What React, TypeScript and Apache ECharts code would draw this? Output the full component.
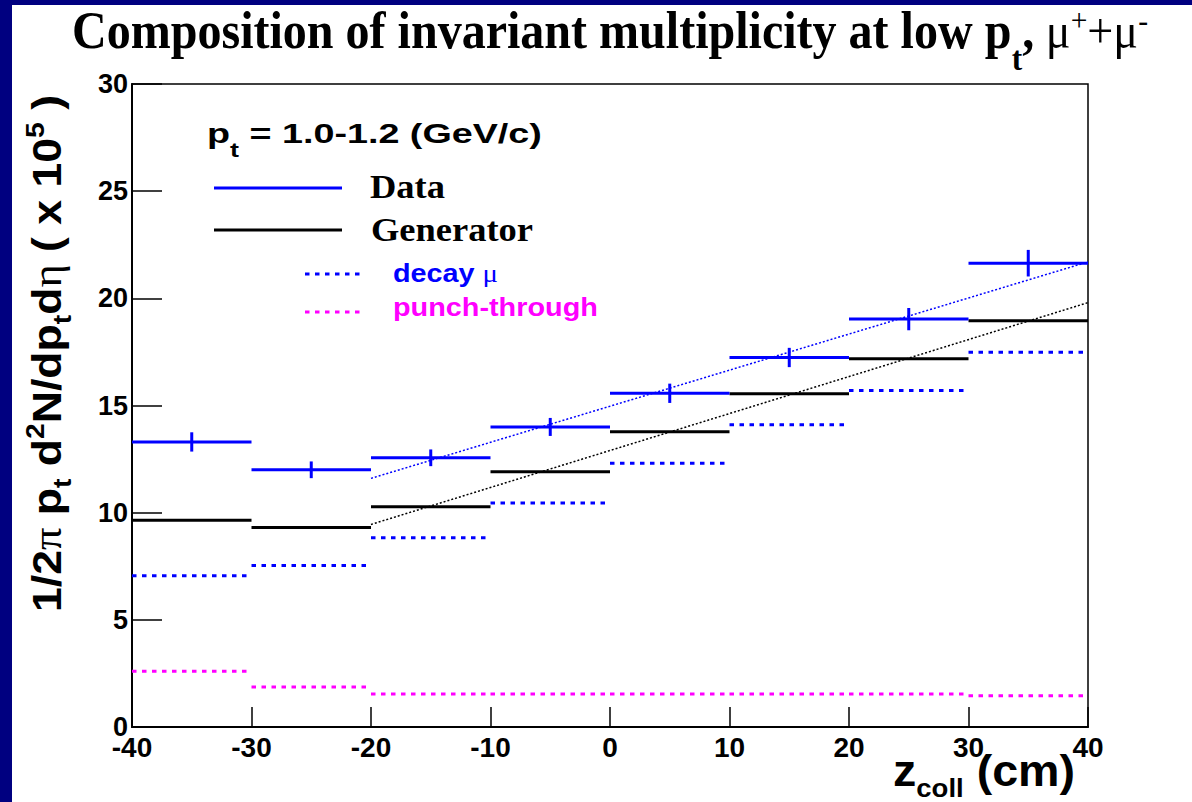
import React, { useEffect, useRef } from "react";
import * as echarts from "echarts";

// ---- data ----
const binEdges = [-40, -30, -20, -10, 0, 10, 20, 30, 40];
const dataValues = [13.3, 12.0, 12.56, 14.0, 15.57, 17.24, 19.03, 21.64];
const dataErrors = [0.45, 0.39, 0.39, 0.42, 0.45, 0.45, 0.52, 0.62];
const generatorValues = [9.65, 9.31, 10.28, 11.91, 13.77, 15.55, 17.18, 18.95];
const decayValues = [7.06, 7.54, 8.83, 10.45, 12.31, 14.1, 15.7, 17.49];
const punchValues = [2.6, 1.87, 1.54, 1.54, 1.54, 1.54, 1.54, 1.46];
const dataFit = [[-20, 11.6], [40, 21.7]];
const generatorFit = [[-20, 9.45], [40, 19.8]];

const X_MIN = -40, X_MAX = 40, X_STEP = 10;
const Y_MIN = 0, Y_MAX = 30, Y_STEP = 5;

const BLUE = "#0000ff";
const MAGENTA = "#ff00ff";
const SANS = '"Liberation Sans", Arial, sans-serif';
const SERIF = '"Liberation Serif", "Times New Roman", serif';

type Seg = { t: string; size: number; family: string; weight?: string; dy?: number; color?: string };

let measureCtx: CanvasRenderingContext2D | null = null;
function measure(s: Seg): number {
  if (!measureCtx) measureCtx = document.createElement("canvas").getContext("2d");
  const ctx = measureCtx!;
  ctx.font = `${s.weight || "normal"} ${s.size}px ${s.family}`;
  return ctx.measureText(s.t).width;
}

// text run laid out on a baseline; fitted horizontally to a target length
function run(segs: Seg[], x: number, y: number, target: number, rotation = 0, color = "#000") {
  let cx = 0;
  const children: any[] = [];
  for (const s of segs) {
    const w = measure(s);
    const centralOffset = (s.family === SERIF ? 0.3375 : 0.3465) * s.size;
    children.push({
      type: "text",
      x: cx,
      y: (s.dy || 0) - centralOffset,
      style: {
        text: s.t,
        fontSize: s.size,
        fontFamily: s.family,
        fontWeight: s.weight || "normal",
        fill: s.color || color,
        align: "left",
        verticalAlign: "middle",
        textAlign: "left",
        textVerticalAlign: "middle",
      },
    });
    cx += w;
  }
  return { type: "group", x, y, rotation, scaleX: target / cx, children };
}

function binSeries(name: string, values: number[], errors: number[] | null, color: string, dashed: boolean, z: number) {
  return {
    type: "custom",
    name,
    z,
    data: values.map((v, i) => [binEdges[i], binEdges[i + 1], v, errors ? errors[i] : 0]),
    encode: { x: [0, 1], y: 2 },
    renderItem: (_p: any, api: any) => {
      const lo = api.value(0), hi = api.value(1), y = api.value(2), e = api.value(3);
      const a = api.coord([lo, y]);
      const b = api.coord([hi, y]);
      const children: any[] = [
        {
          type: "line",
          shape: { x1: a[0], y1: a[1], x2: b[0], y2: b[1] },
          style: { stroke: color, lineWidth: 3, lineDash: dashed ? [4.5, 5.5] : null },
        },
      ];
      if (e > 0) {
        const c = (lo + hi) / 2;
        const p = api.coord([c, y - e]);
        const q = api.coord([c, y + e]);
        children.push({
          type: "line",
          shape: { x1: p[0], y1: p[1], x2: q[0], y2: q[1] },
          style: { stroke: color, lineWidth: 3 },
        });
      }
      return { type: "group", children };
    },
  };
}

export default function App() {
  const ref = useRef<HTMLDivElement>(null);
  useEffect(() => {
    if (!ref.current) return;
    const chart = echarts.init(ref.current, undefined, { renderer: "svg" });

    const graphic: any[] = [
      { type: "rect", shape: { x: 0, y: 0, width: 12, height: 802 }, style: { fill: "#000080" }, z: 100 },
      { type: "rect", shape: { x: 0, y: 0, width: 1192, height: 5 }, style: { fill: "#000080" }, z: 100 },
      // title
      run(
        [
          { t: "Composition of invariant multiplicity at low p", size: 52, family: SERIF, weight: "bold" },
          { t: "t", size: 34, family: SERIF, weight: "bold", dy: 22 },
          { t: ",", size: 52, family: SERIF, weight: "bold" },
          { t: " \u03bc", size: 50, family: SERIF },
          { t: "+", size: 32, family: SERIF, dy: -17 },
          { t: "+\u03bc", size: 50, family: SERIF },
          { t: "-", size: 32, family: SERIF, dy: -17 },
        ],
        72, 48, 1076
      ),
      // y axis name
      run(
        [
          { t: "1/2", size: 41, family: SANS, weight: "bold" },
          { t: "\u03c0", size: 41, family: SERIF },
          { t: " p", size: 41, family: SANS, weight: "bold" },
          { t: "t", size: 26, family: SANS, weight: "bold", dy: 10 },
          { t: " d", size: 41, family: SANS, weight: "bold" },
          { t: "2", size: 26, family: SANS, weight: "bold", dy: -17 },
          { t: "N/dp", size: 41, family: SANS, weight: "bold" },
          { t: "t", size: 26, family: SANS, weight: "bold", dy: 10 },
          { t: "d", size: 41, family: SANS, weight: "bold" },
          { t: "\u03b7", size: 41, family: SERIF },
          { t: " ( x 10", size: 41, family: SANS, weight: "bold" },
          { t: "5", size: 26, family: SANS, weight: "bold", dy: -17 },
          { t: " )", size: 41, family: SANS, weight: "bold" },
        ],
        61, 612, 517, Math.PI / 2
      ),
      // x axis name
      run(
        [
          { t: "z", size: 44, family: SANS, weight: "bold" },
          { t: "coll", size: 26, family: SANS, weight: "bold", dy: 11 },
          { t: " (cm)", size: 44, family: SANS, weight: "bold" },
        ],
        893, 786, 182
      ),
      // legend block
      run(
        [
          { t: "p", size: 28, family: SANS, weight: "bold" },
          { t: "t", size: 20, family: SANS, weight: "bold", dy: 14 },
          { t: " = 1.0-1.2 (GeV/c)", size: 28, family: SANS, weight: "bold" },
        ],
        207, 143, 335
      ),
      { type: "line", shape: { x1: 214, y1: 188, x2: 342, y2: 188 }, style: { stroke: BLUE, lineWidth: 3 } },
      run([{ t: "Data", size: 33, family: SERIF, weight: "bold" }], 370, 198, 75),
      { type: "line", shape: { x1: 214, y1: 230, x2: 342, y2: 230 }, style: { stroke: "#000", lineWidth: 3 } },
      run([{ t: "Generator", size: 33, family: SERIF, weight: "bold" }], 371, 241, 162),
      { type: "line", shape: { x1: 305, y1: 274, x2: 362, y2: 274 }, style: { stroke: BLUE, lineWidth: 3, lineDash: [4.5, 5.5] } },
      run(
        [
          { t: "decay ", size: 26, family: SANS, weight: "bold", color: BLUE },
          { t: "\u03bc", size: 26, family: SERIF, color: BLUE },
        ],
        393, 282, 105
      ),
      { type: "line", shape: { x1: 305, y1: 312, x2: 362, y2: 312 }, style: { stroke: MAGENTA, lineWidth: 3, lineDash: [4.5, 5.5] } },
      run([{ t: "punch-through", size: 25, family: SANS, weight: "bold", color: MAGENTA }], 393, 316, 205),
    ];

    chart.setOption({
      animation: false,
      backgroundColor: "#ffffff",
      grid: { left: 132, right: 104, top: 84, bottom: 75, show: true, borderColor: "#000", borderWidth: 1.5, backgroundColor: "transparent" },
      xAxis: {
        type: "value",
        min: X_MIN,
        max: X_MAX,
        interval: X_STEP,
        axisLine: { show: true, onZero: false, lineStyle: { color: "#000", width: 2 } },
        axisTick: { show: true, inside: true, length: 20, lineStyle: { color: "#000", width: 1.5 } },
        axisLabel: { color: "#000", fontFamily: SANS, fontWeight: "bold", fontSize: 28, margin: 6 },
        splitLine: { show: false },
      },
      yAxis: {
        type: "value",
        min: Y_MIN,
        max: Y_MAX,
        interval: Y_STEP,
        axisLine: { show: true, onZero: false, lineStyle: { color: "#000", width: 2 } },
        axisTick: { show: true, inside: true, length: 30, lineStyle: { color: "#000", width: 1.5 } },
        axisLabel: { color: "#000", fontFamily: SANS, fontWeight: "bold", fontSize: 27, margin: 4 },
        splitLine: { show: false },
      },
      graphic,
      series: [
        binSeries("punch-through", punchValues, null, MAGENTA, true, 2),
        binSeries("decay", decayValues, null, BLUE, true, 3),
        binSeries("Generator", generatorValues, null, "#000", false, 4),
        binSeries("Data", dataValues, dataErrors, BLUE, false, 5),
        {
          type: "line",
          name: "Generator fit",
          data: generatorFit,
          showSymbol: false,
          symbol: "none",
          z: 6,
          lineStyle: { color: "#000", width: 1.5, type: [2, 2] },
        },
        {
          type: "line",
          name: "Data fit",
          data: dataFit,
          showSymbol: false,
          symbol: "none",
          z: 6,
          lineStyle: { color: BLUE, width: 1.5, type: [2, 2] },
        },
      ],
    });
    return () => chart.dispose();
  }, []);
  return <div ref={ref} style={{ position: "fixed", left: 0, top: 0, width: 1192, height: 802 }} />;
}
